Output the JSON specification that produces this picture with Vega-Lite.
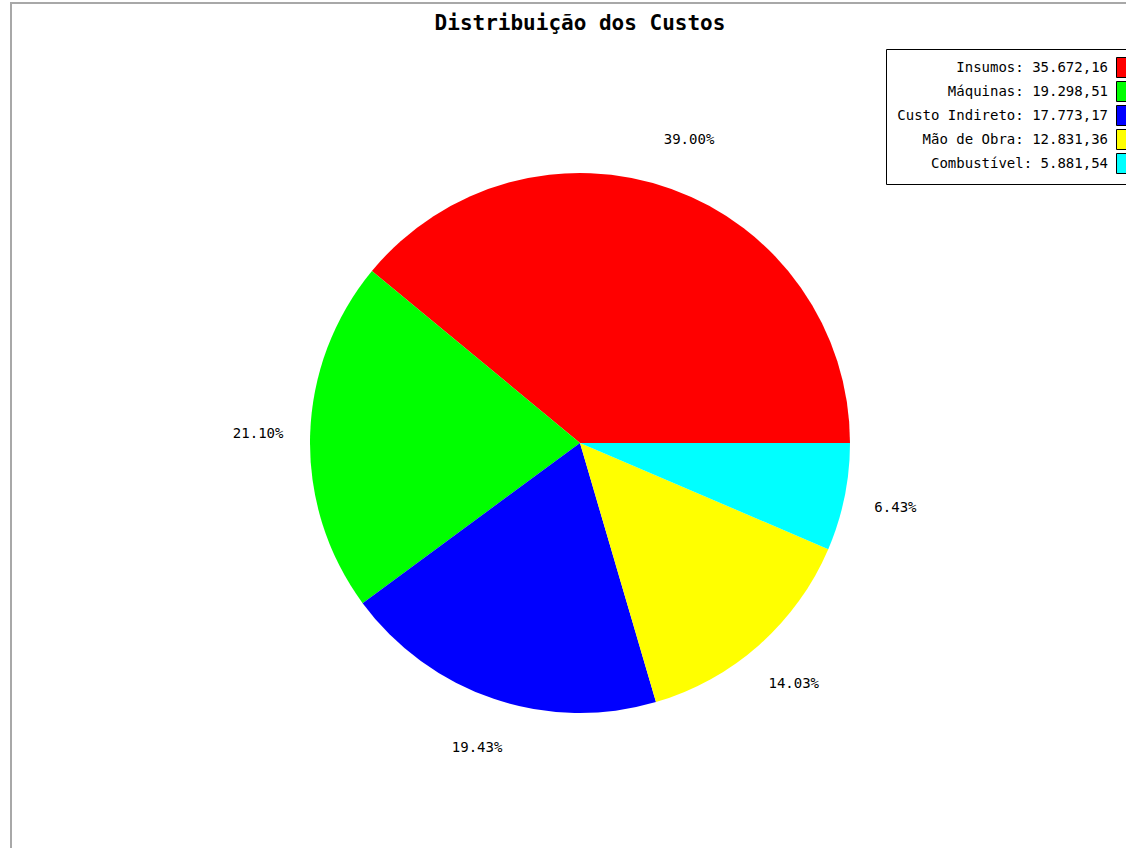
{
  "$schema": "https://vega.github.io/schema/vega-lite/v6.json",
  "width": 1138,
  "height": 880,
  "autosize": {"type": "none"},
  "padding": {"left": 11, "top": 3, "right": 0, "bottom": 0},
  "background": "white",
  "view": {"stroke": "#a8a8a8", "strokeWidth": 2, "fill": "white"},
  "title": {
    "text": "Distribuição dos Custos",
    "font": "DejaVu Sans Mono",
    "fontSize": 21,
    "fontWeight": "bold",
    "color": "black",
    "anchor": "middle",
    "frame": "group",
    "baseline": "top",
    "offset": -31
  },
  "data": {
    "values": [
      {"ordem": 1, "categoria": "Insumos", "rotulo": "Insumos: 35.672,16", "valor": 35672.16, "pct": "39.00%"},
      {"ordem": 2, "categoria": "Máquinas", "rotulo": "Máquinas: 19.298,51", "valor": 19298.51, "pct": "21.10%"},
      {"ordem": 3, "categoria": "Custo Indireto", "rotulo": "Custo Indireto: 17.773,17", "valor": 17773.17, "pct": "19.43%"},
      {"ordem": 4, "categoria": "Mão de Obra", "rotulo": "Mão de Obra: 12.831,36", "valor": 12831.36, "pct": "14.03%"},
      {"ordem": 5, "categoria": "Combustível", "rotulo": "Combustível: 5.881,54", "valor": 5881.54, "pct": "6.43%"}
    ]
  },
  "encoding": {
    "theta": {
      "field": "valor",
      "type": "quantitative",
      "stack": true,
      "scale": {"range": [1.5707963, -4.712389]}
    },
    "order": {"field": "ordem", "type": "quantitative"}
  },
  "layer": [
    {
      "mark": {"type": "arc", "outerRadius": 270},
      "encoding": {
        "color": {
          "field": "rotulo",
          "type": "nominal",
          "sort": null,
          "scale": {
            "domain": ["Insumos: 35.672,16", "Máquinas: 19.298,51", "Custo Indireto: 17.773,17", "Mão de Obra: 12.831,36", "Combustível: 5.881,54"],
            "range": ["#ff0000", "#00ff00", "#0000ff", "#ffff00", "#00ffff"]
          },
          "legend": {
            "orient": "none",
            "legendX": 875,
            "legendY": 46,
            "title": null,
            "direction": "vertical",
            "labelAlign": "right",
            "labelOffset": -24,
            "symbolOffset": 217,
            "labelFont": "DejaVu Sans Mono",
            "labelFontSize": 14,
            "labelColor": "black",
            "labelLimit": 400,
            "symbolType": "M-0.5,-1H0.5V1H-0.5Z",
            "symbolSize": 400,
            "symbolStrokeColor": "black",
            "symbolStrokeWidth": 1,
            "symbolOpacity": 1,
            "rowPadding": -1,
            "strokeColor": "black",
            "fillColor": "white",
            "padding": 8
          }
        }
      }
    },
    {
      "mark": {"type": "text", "radius": 322, "font": "DejaVu Sans Mono", "fontSize": 14, "color": "black"},
      "encoding": {
        "detail": {"field": "rotulo", "type": "nominal"},
        "text": {"field": "pct", "type": "nominal"}
      }
    }
  ]
}
